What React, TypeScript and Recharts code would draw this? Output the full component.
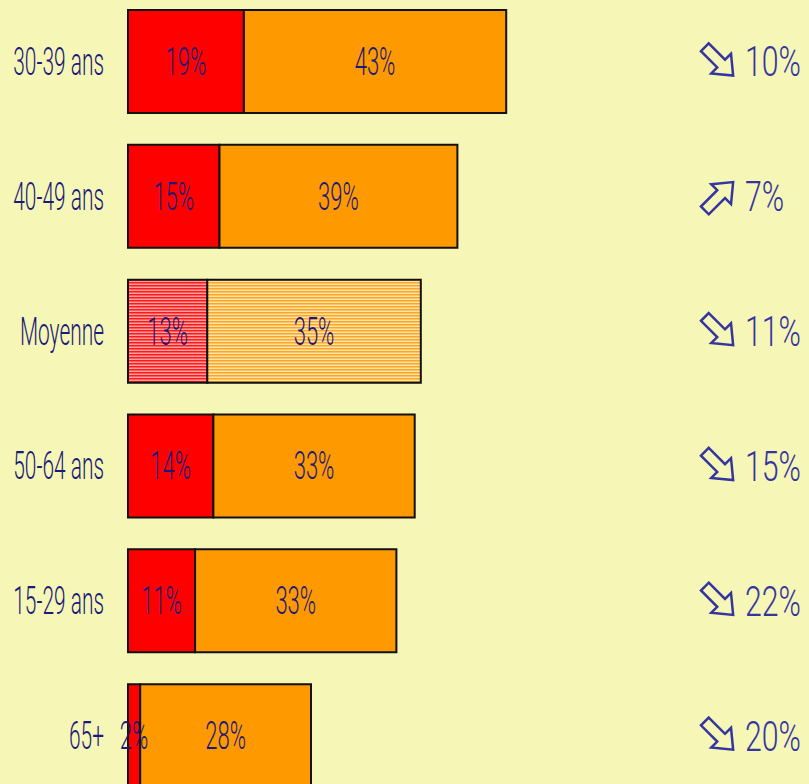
import { BarChart, Bar, XAxis, YAxis, Cell, LabelList } from 'recharts';

const categories = ['30-39 ans', '40-49 ans', 'Moyenne', '50-64 ans', '15-29 ans', '65+'];
const redValues = [19, 15, 13, 14, 11, 2];
const orangeValues = [43, 39, 35, 33, 33, 28];
const trendValues = [10, 7, 11, 15, 22, 20];
const trendDirections = ['down', 'up', 'down', 'down', 'down', 'down'];
const averageCategory = 'Moyenne';

const data = categories.map((name, i) => ({
  name,
  red: redValues[i],
  orange: orangeValues[i],
}));

const NAVY = '#1a1a78';
const TREND_BLUE = '#3535a0';
const FONT = 'Roboto, "Liberation Sans", Arial, sans-serif';

function LeftTick(props: any) {
  const { x, y, payload } = props;
  return (
    <text
      transform={`translate(${x},${y}) scale(0.55,1)`}
      textAnchor="end"
      dy="0.355em"
      fontSize={38}
      fontWeight={300}
      fontFamily={FONT}
      fill={NAVY}
    >
      {payload.value}
    </text>
  );
}

function RightTick(props: any) {
  const { x, y, index } = props;
  const up = trendDirections[index] === 'up';
  return (
    <g transform={`translate(${x},${y})`}>
      <path
        d="M-20,-5.5 L3,-5.5 L3,-14 L20,0 L3,14 L3,5.5 L-20,5.5 Z"
        transform={`translate(-19,0) rotate(${up ? -45 : 45})`}
        fill="none"
        stroke={TREND_BLUE}
        strokeWidth={2.5}
        strokeLinejoin="miter"
      />
      <text
        transform="translate(7,0) scale(0.72,1)"
        dy="0.355em"
        fontSize={42}
        fontWeight={300}
        fontFamily={FONT}
        fill={TREND_BLUE}
      >
        {`${trendValues[index]}%`}
      </text>
    </g>
  );
}

function ValueLabel(props: any) {
  const { x, y, width, height, value } = props;
  return (
    <text
      transform={`translate(${x + width / 2},${y + height / 2}) scale(0.58,1)`}
      textAnchor="middle"
      dy="0.355em"
      fontSize={38}
      fontWeight={300}
      fontFamily={FONT}
      fill={NAVY}
    >
      {`${value}%`}
    </text>
  );
}

export default function App() {
  return (
    <div
      style={{
        position: 'fixed',
        top: 0,
        left: 0,
        width: 809,
        height: 784,
        overflow: 'hidden',
        background: '#f6f7b6',
      }}
    >
      <div style={{ marginTop: -6 }}>
        <BarChart
          width={809}
          height={809}
          data={data}
          layout="vertical"
          margin={{ top: 0, right: 0, bottom: 0, left: 0 }}
          barSize={103}
        >
          <defs>
            <pattern id="redStripes" width="4" height="3" patternUnits="userSpaceOnUse">
              <rect width="4" height="3" fill="#ffa0a0" />
              <rect width="4" height="1.5" fill="#ff1a1a" />
            </pattern>
            <pattern id="orangeStripes" width="4" height="3" patternUnits="userSpaceOnUse">
              <rect width="4" height="3" fill="#ffe4a8" />
              <rect width="4" height="1.5" fill="#ffa526" />
            </pattern>
          </defs>
          <XAxis type="number" domain={[0, 100]} hide />
          <YAxis
            yAxisId="left"
            type="category"
            dataKey="name"
            width={128}
            axisLine={false}
            tickLine={false}
            tickSize={0}
            tickMargin={24}
            tick={<LeftTick />}
            interval={0}
          />
          <YAxis
            yAxisId="right"
            orientation="right"
            type="category"
            dataKey="name"
            width={71}
            axisLine={false}
            tickLine={false}
            tickSize={0}
            tickMargin={0}
            tick={<RightTick />}
            interval={0}
          />
          <Bar
            dataKey="red"
            stackId="a"
            yAxisId="left"
            fill="#ff0000"
            stroke="#111111"
            strokeWidth={2}
            isAnimationActive={false}
          >
            {data.map((d) => (
              <Cell key={d.name} fill={d.name === averageCategory ? 'url(#redStripes)' : '#ff0000'} />
            ))}
            <LabelList dataKey="red" content={<ValueLabel />} />
          </Bar>
          <Bar
            dataKey="orange"
            stackId="a"
            yAxisId="left"
            fill="#ff9900"
            stroke="#111111"
            strokeWidth={2}
            isAnimationActive={false}
          >
            {data.map((d) => (
              <Cell key={d.name} fill={d.name === averageCategory ? 'url(#orangeStripes)' : '#ff9900'} />
            ))}
            <LabelList dataKey="orange" content={<ValueLabel />} />
          </Bar>
        </BarChart>
      </div>
    </div>
  );
}
